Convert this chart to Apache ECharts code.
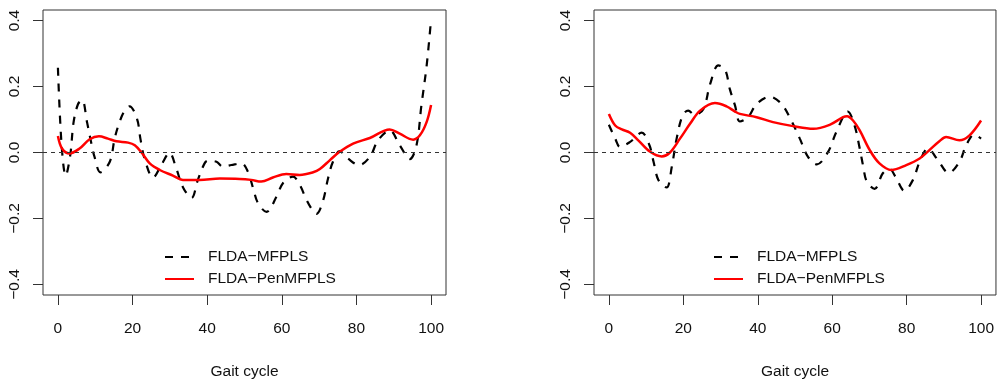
<!DOCTYPE html>
<html>
<head>
<meta charset="utf-8">
<script src="https://cdn.jsdelivr.net/npm/echarts@6/dist/echarts.min.js"></script>
<style>
  html, body { margin: 0; padding: 0; background: #fff; }
  #chart { width: 997px; height: 385px; }
</style>
</head>
<body>
<div id="chart"></div>
<script>
// tick labels
const xTicks = [0, 20, 40, 60, 80, 100];
const yTicks = [-0.4, -0.2, 0, 0.2, 0.4];
const seriesNames = ['FLDA\u2212MFPLS', 'FLDA\u2212PenMFPLS'];

// left panel, dashed (MFPLS)
const leftMfplsX = [0, 1.0, 2.1, 3.3, 4.2, 5.4, 6.5, 7.8, 8.7, 9.8, 11.4, 13.9, 15.2, 16.5, 17.9, 19.2, 21.2, 22.1, 23.2, 25.5, 27.7, 29.9, 31.7, 33.5, 35.8, 37.5, 39.3, 40.2, 42.5, 44.2, 46.5, 49.2, 50.9, 52.3, 53.6, 55.9, 58.6, 60.3, 63, 64.8, 66.6, 68.4, 69.3, 71, 72.4, 73.7, 75.5, 77.7, 80.7, 83.6, 85.8, 88.9, 91.6, 94.3, 96.1, 97.4, 98.8, 100];
const leftMfplsY = [0.257, 0.02, -0.07, -0.008, 0.092, 0.147, 0.159, 0.092, 0.042, -0.013, -0.06, -0.028, 0.042, 0.092, 0.127, 0.14, 0.102, 0.042, -0.018, -0.076, -0.038, -0.001, -0.048, -0.105, -0.138, -0.083, -0.033, -0.025, -0.028, -0.043, -0.038, -0.033, -0.058, -0.108, -0.153, -0.18, -0.133, -0.093, -0.073, -0.098, -0.143, -0.178, -0.186, -0.148, -0.078, -0.028, 0.004, -0.018, -0.038, -0.013, 0.037, 0.067, 0.022, -0.02, 0.022, 0.142, 0.262, 0.404];

// left panel, solid (PenMFPLS)
const leftPenX = [0, 1.1, 3.1, 5.8, 8.5, 11, 13.4, 15.7, 18.8, 20.6, 22.4, 24.6, 27.3, 30.8, 33.5, 38, 43.4, 48.7, 51.8, 54.5, 57.6, 61.2, 64.8, 68.4, 70.2, 72.9, 75.5, 79.1, 83.6, 88.9, 91.6, 95.2, 97, 98.8, 100];
const leftPenY = [0.05, 0.012, -0.003, 0.012, 0.04, 0.049, 0.042, 0.034, 0.03, 0.022, 0, -0.033, -0.053, -0.07, -0.083, -0.083, -0.079, -0.08, -0.083, -0.088, -0.076, -0.065, -0.068, -0.06, -0.05, -0.023, 0.002, 0.027, 0.044, 0.07, 0.057, 0.039, 0.052, 0.092, 0.144];

// right panel, dashed (MFPLS)
const rightMfplsX = [0, 1.7, 3, 5.7, 8.8, 10.9, 12, 13.3, 15.5, 16.9, 18.2, 19.8, 21.3, 23.1, 25.4, 27.2, 29.4, 31.2, 32.5, 33.9, 35.2, 37.4, 39.7, 43.2, 46.4, 49, 51.3, 53.5, 55.9, 58.9, 61.1, 64.2, 66, 67.4, 68.3, 69.3, 71.4, 73.6, 75.4, 77.2, 79.4, 81.7, 83.5, 85.7, 88.4, 91.3, 94.2, 96, 98.2, 100];
const rightMfplsY = [0.084, 0.042, 0.017, 0.032, 0.06, 0.022, -0.028, -0.083, -0.106, -0.043, 0.042, 0.112, 0.127, 0.114, 0.132, 0.207, 0.264, 0.252, 0.192, 0.142, 0.094, 0.107, 0.147, 0.169, 0.147, 0.097, 0.042, -0.013, -0.036, 0.002, 0.062, 0.124, 0.082, 0.012, -0.04, -0.088, -0.11, -0.063, -0.05, -0.078, -0.116, -0.083, -0.028, 0.012, -0.023, -0.062, -0.028, 0.022, 0.054, 0.042];

// right panel, solid (PenMFPLS)
const rightPenX = [0, 1.7, 3.5, 5.7, 7.9, 11.1, 14.2, 16.4, 19.1, 21.8, 24.5, 28.5, 31.6, 33.9, 35.2, 39.7, 44.1, 49.5, 54.9, 59.3, 62.9, 64, 65.6, 67.4, 70.1, 72.7, 75.9, 79.9, 83.5, 86.1, 88.8, 90.6, 94.2, 96.9, 100];
const rightPenY = [0.117, 0.082, 0.07, 0.06, 0.037, 0.002, -0.012, 0, 0.042, 0.087, 0.127, 0.15, 0.14, 0.124, 0.117, 0.107, 0.092, 0.08, 0.072, 0.084, 0.107, 0.11, 0.097, 0.067, 0.007, -0.033, -0.053, -0.038, -0.018, 0.007, 0.034, 0.047, 0.037, 0.052, 0.097];

const FONT = 'Liberation Sans';
const FS = 15.5;
const zip = (xs, ys) => xs.map((x, i) => [x, ys[i]]);
const fmtY = (v) => v.toFixed(1).replace('-', '\u2212');

const panels = [
  { left: 43, width: 403, legendLeft: 159, dashed: zip(leftMfplsX, leftMfplsY), solid: zip(leftPenX, leftPenY) },
  { left: 594, width: 402, legendLeft: 708, dashed: zip(rightMfplsX, rightMfplsY), solid: zip(rightPenX, rightPenY) }
];

const grids = [], xAxes = [], yAxes = [], series = [], legends = [];

panels.forEach((p, i) => {
  grids.push({
    left: p.left, top: 10, width: p.width, height: 288,
    show: true, borderColor: '#333', borderWidth: 1, backgroundColor: 'transparent'
  });
  xAxes.push({
    gridIndex: i, type: 'value', min: -4, max: 104,
    name: 'Gait cycle', nameLocation: 'middle', nameGap: 69,
    nameTextStyle: { fontFamily: FONT, fontSize: FS, color: '#111' },
    axisLine: { show: false, onZero: false },
    splitLine: { show: false },
    axisTick: { show: true, length: 10, customValues: xTicks, lineStyle: { color: '#333' } },
    axisLabel: { customValues: xTicks, margin: 26, fontFamily: FONT, fontSize: FS, color: '#111' }
  });
  yAxes.push({
    gridIndex: i, type: 'value', min: -0.432, max: 0.432,
    axisLine: { show: false, onZero: false },
    splitLine: { show: false },
    axisTick: { show: true, length: 10, customValues: yTicks, lineStyle: { color: '#333' } },
    axisLabel: {
      customValues: yTicks, rotate: 90, margin: 20, fontFamily: FONT, fontSize: FS, color: '#111',
      formatter: fmtY
    }
  });
  series.push({
    name: seriesNames[0], type: 'line', xAxisIndex: i, yAxisIndex: i,
    data: p.dashed, smooth: 0.35, symbol: 'none',
    lineStyle: { color: '#000', width: 2.2, type: [8, 8] },
    itemStyle: { color: '#000' },
    markLine: {
      silent: true, symbol: ['none', 'none'], label: { show: false },
      lineStyle: { color: '#333', width: 1, type: [4, 4] },
      data: [{ yAxis: 0 }]
    }
  });
  series.push({
    name: seriesNames[1], type: 'line', xAxisIndex: i, yAxisIndex: i,
    data: p.solid, smooth: 0.35, symbol: 'none',
    lineStyle: { color: '#ff0000', width: 2.5 },
    itemStyle: { color: '#ff0000' }
  });
  legends.push({
    left: p.legendLeft, top: 244, orient: 'vertical',
    itemWidth: 29, itemHeight: 14, itemGap: 6,
    itemStyle: { opacity: 0, color: 'rgba(0,0,0,0)', borderWidth: 0 },
    data: seriesNames,
    textStyle: { fontFamily: FONT, fontSize: FS, color: '#111', padding: [0, 0, 0, 9] }
  });
});

const chart = echarts.init(document.getElementById('chart'));
chart.setOption({
  animation: false,
  backgroundColor: '#fff',
  grid: grids,
  xAxis: xAxes,
  yAxis: yAxes,
  legend: legends,
  series: series
});
</script>
</body>
</html>
